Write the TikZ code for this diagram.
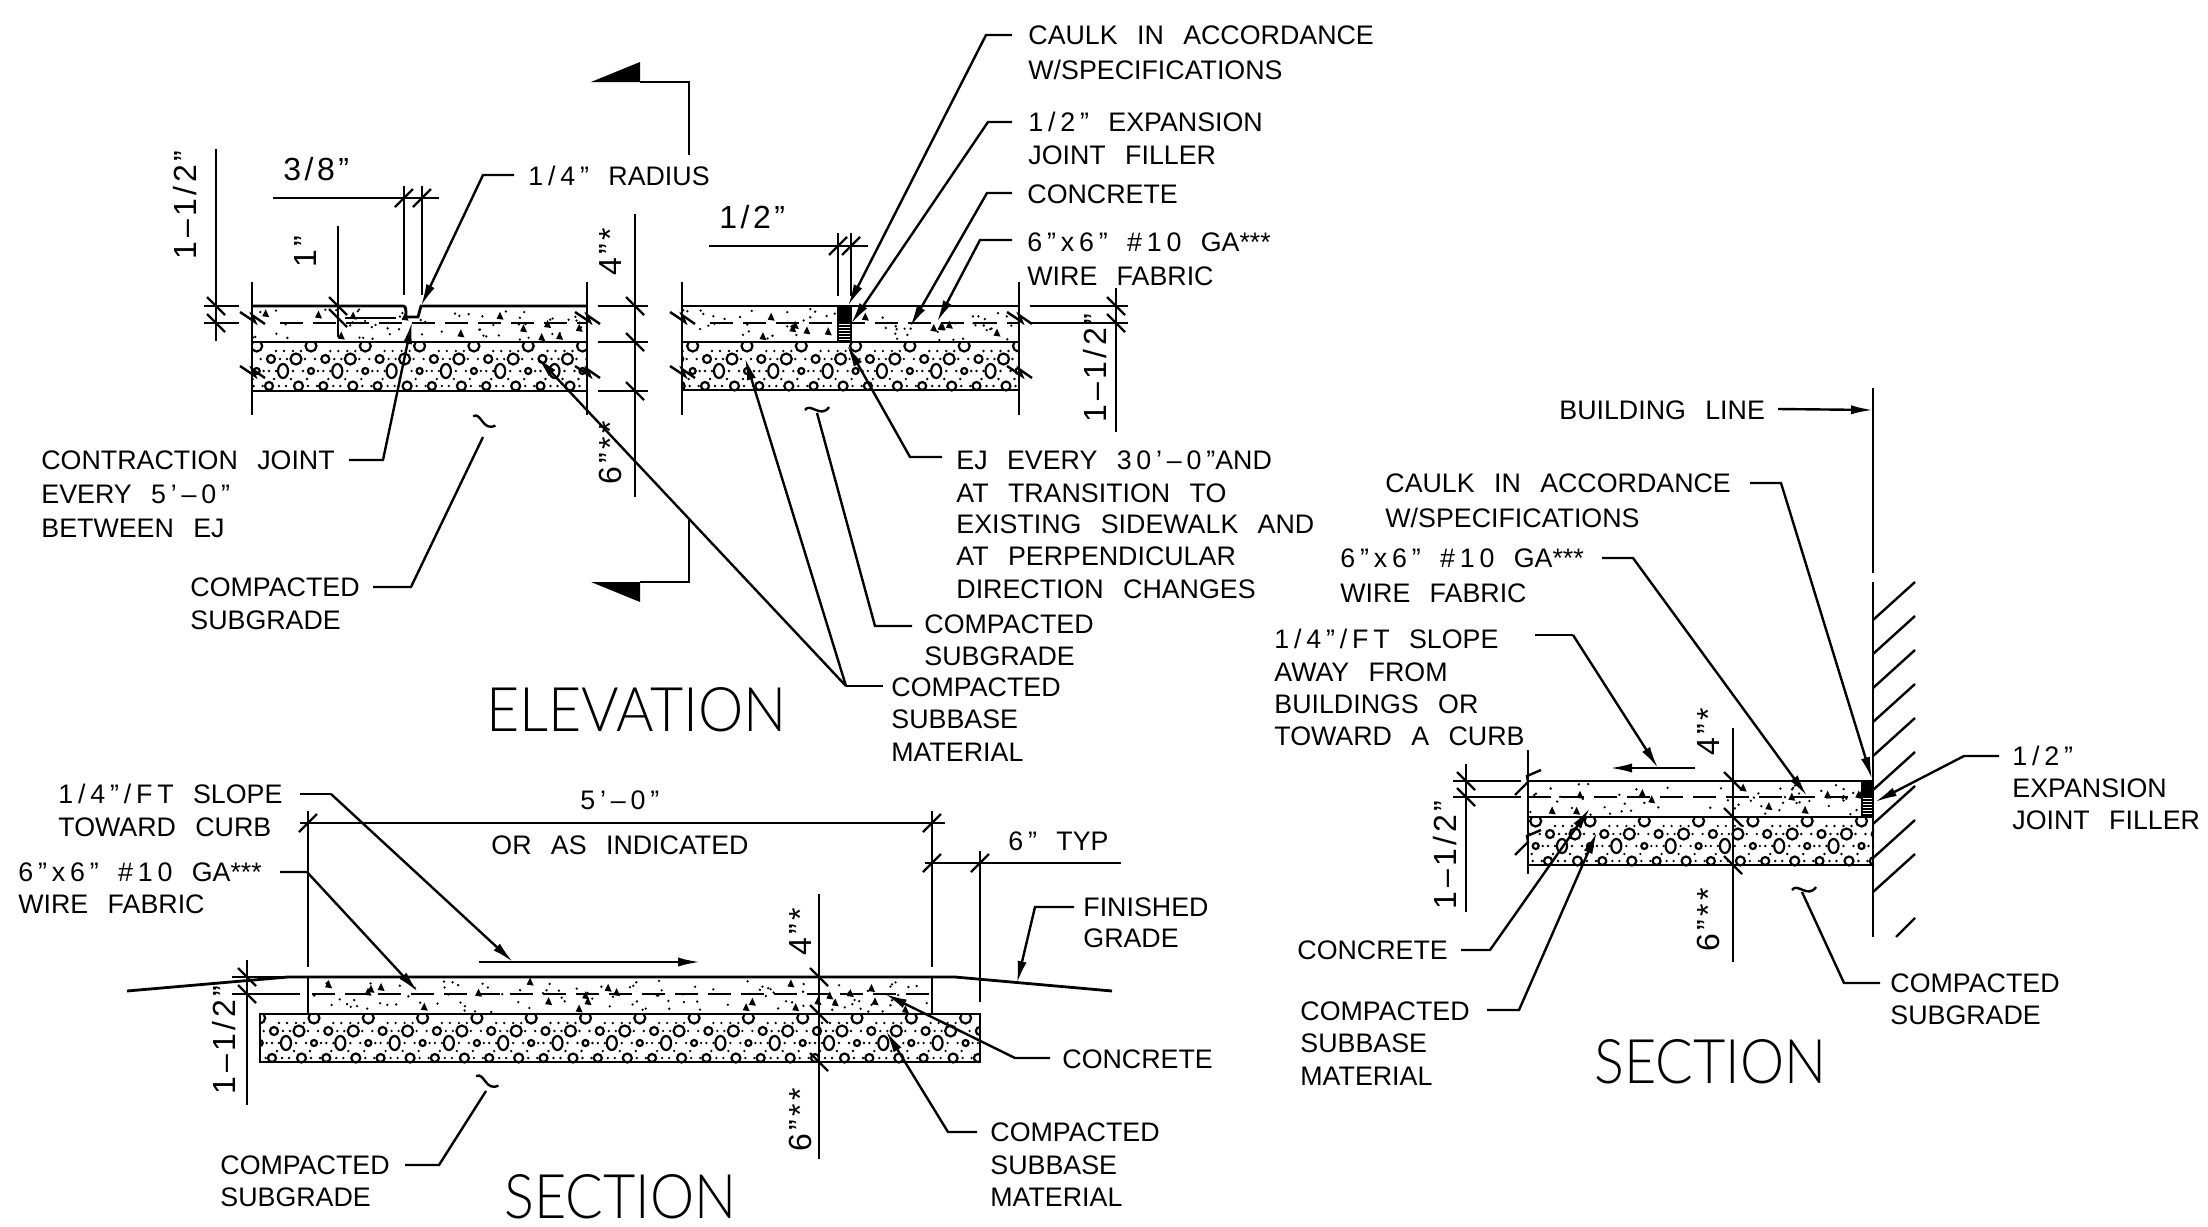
\documentclass[tikz,border=0pt]{standalone}
\usepackage{fontspec}
\setmainfont[WordSpace=2.6]{Liberation Sans}
\newfontfamily\bigf[UprightFont={* Light}]{Lato}
\usetikzlibrary{arrows.meta}
\newcounter{tn}
\newcommand{\dg}[1]{{\addfontfeature{LetterSpace=18}#1}}
\tikzset{
  ln/.style={line width=1.2pt},
  hv/.style={line width=1.4pt},
  ldr/.style={line width=1.2pt,-{Latex[length=11pt,width=4.6pt]}},
  txt/.style={inner sep=0pt,font=\fontsize{13.4pt}{15pt}\selectfont,text height=9.6pt,text depth=0pt},
  dimt/.style={inner sep=0pt,font=\fontsize{16pt}{17pt}\selectfont\addfontfeature{LetterSpace=11},text height=11.4pt,text depth=0pt},
  grv/.style={line width=1.1pt}
}
\newcommand{\T}[3]{\stepcounter{tn}\node[txt,anchor=west] (t\arabic{tn}) at (#1,#2) {#3};}
\newcommand{\Dm}[3]{\stepcounter{tn}\node[dimt,anchor=west] (t\arabic{tn}) at (#1,#2) {#3};}
\newcommand{\R}[3]{\stepcounter{tn}\node[dimt,rotate=90] (t\arabic{tn}) at (#1,#2) {#3};}
\newcommand{\Bg}[4]{\stepcounter{tn}\node[inner sep=0pt,anchor=west] (t\arabic{tn}) at (#1,#2) {\resizebox{#3}{22pt}{\bigf #4}};}
\newcommand{\tka}[2]{\draw[ln] (#1-9,#2-9)--(#1+9,#2+9);}
\newcommand{\tkb}[2]{\draw[ln] (#1-9,#2+9)--(#1+9,#2-9);}
\newcommand{\brk}[2]{\draw[ln,shift={(#1,#2)}] (-12,-6)--(3,4)--(0,-3)--(13,6);}
\newcommand{\brkb}[2]{\draw[ln,shift={(#1,#2)}] (-13,13)--(0,0)--(-1,-6)--(13,-12);}
\newcommand{\tild}[3]{\draw[ln,shift={(#1,#2)},rotate=#3] (-12,-1) .. controls (-7,-9) and (4,8) .. (12,-4);}
% gravel: x0 x1 top origin
\newcommand{\gravel}[4]{%
\begin{scope}
\clip (#1,#3) rectangle (#2,#3+49);
\pgfmathtruncatemacro{\nk}{(#2-#4)/54.3+1}
\foreach \k in {-1,...,\nk}{
\begin{scope}[shift={(#4+\k*54.3,#3)}]
\draw[grv] (40,4) circle[radius=5.5] (0,17) circle[radius=4] (25,17) circle[radius=5.5]
 (12,29) circle[x radius=5,y radius=7] (40,29) circle[radius=3] (-2,44) circle[radius=4] (27.5,44) circle[radius=4.5];
\foreach \a/\b in {9/17,16/17,34/17,44/17,5/9,13/9,22/9,30/9,-2/29,5/29,22/29,32/29,47/29,3/37,20/37,36/37,8/44,15/44,37/44,46/44}{\fill (\a,\b) circle[radius=1.3];}
\end{scope}}
\end{scope}}
% concrete speckle: x0 x1 top bottom
\newcommand{\conc}[4]{%
\begin{scope}
\clip (#1,#3) rectangle (#2,#4);
\pgfmathtruncatemacro{\nd}{(#2-#1)/6}
\foreach \i in {1,...,\nd}{
 \pgfmathsetmacro{\px}{#1+rnd*(#2-#1)}\pgfmathsetmacro{\py}{#3+3+rnd*(#4-#3-5)}
 \fill (\px,\py) circle[radius=1.3];}
\pgfmathtruncatemacro{\nt}{(#2-#1)/26}
\foreach \i in {1,...,\nt}{
 \pgfmathsetmacro{\px}{#1+rnd*(#2-#1)}\pgfmathsetmacro{\py}{#3+5+rnd*(#4-#3-8)}
 \fill (\px-3.5,\py+2.5)--(\px+3.5,\py+3.5)--(\px,\py-4.5)--cycle;}
\end{scope}}
\begin{document}
\begin{tikzpicture}[x=.5pt,y=-.5pt]
\useasboundingbox (0,0) rectangle (2208,1227);
\pgfmathsetseed{4711}
%% ========= ELEVATION left
\conc{252}{587}{306}{342}
\gravel{252}{587}{342}{271}
\draw[ln,dash pattern=on 11.5pt off 5pt] (280,323)--(587,323);
\draw[hv] (252,306)--(403,306) to[out=0,in=90] (406,312)--(406,317)--(418,317)--(421,306)--(587,306);
\draw[hv] (252,342)--(587,342) (252,391)--(587,391);
\draw[ln] (252,282)--(252,415) (587,282)--(587,415);
\brk{252}{318}\brk{587}{318}\brk{252}{372}\brk{587}{372}
% dims
\draw[ln] (216,149)--(216,341) (204,306)--(239,306) (204,323)--(239,323);
\tka{216}{306}\tka{216}{323}
\R{185}{205}{1–1/2”}
\draw[ln] (338,226)--(338,337) (345,318)--(396,318);
\tka{338}{306}\tka{338}{318}
\R{305}{252}{1”}
\draw[ln] (273,198)--(439,198) (404,186)--(404,295) (422,186)--(422,295);
\tkb{404}{198}\tkb{422}{198}
\Dm{283}{169}{3/8”}
\draw[ln] (635,214)--(635,497) (598,306)--(648,306) (648,342)--(598,342) (598,391)--(648,391);
\tka{635}{306}\tka{635}{342}\tka{635}{391}
\R{610}{252}{4”*}
\R{610}{453}{6”**}
\draw[ldr] (514,175)--(483,175)--(421,306);
\T{528}{176}{\dg{1/4”} RADIUS}
\draw[ldr] (349,460)--(383,460)--(412,322);
\T{41}{460}{CONTRACTION JOINT}
\T{41}{494}{EVERY \dg{5’–0”}}
\T{41}{528}{BETWEEN EJ}
\tild{483}{423}{-30}
\draw[ln] (373,587)--(411,587)--(483,437);
\T{190}{587}{COMPACTED}
\T{190}{620}{SUBGRADE}
% section cut
\fill (591,82)--(640,62)--(640,82)--cycle;
\draw[ln] (640,82)--(689,82)--(689,155);
\fill (591,582)--(640,602)--(640,582)--cycle;
\draw[ln] (640,582)--(689,582)--(689,520);
%% ========= ELEVATION right
\conc{682}{1019}{306}{342}
\gravel{682}{1019}{342}{707}
\draw[ln,dash pattern=on 11.5pt off 5pt] (710,323)--(1019,323);
\fill[white] (838,306) rectangle (851,342);
\fill (838,306) rectangle (851,324);
\foreach \yy in {326,329,...,341}{\draw[line width=.6pt] (838,\yy)--(851,\yy);}
\draw[ln] (838,306)--(838,342) (851,306)--(851,342);
\draw[hv] (682,306)--(1019,306) (682,342)--(1019,342) (682,390)--(1019,390);
\draw[ln] (682,282)--(682,415) (1019,282)--(1019,415);
\brk{682}{318}\brk{1019}{318}\brk{682}{372}\brk{1019}{372}
\draw[ln] (709,246)--(868,246) (838,233)--(838,296) (851,233)--(851,296);
\tkb{838}{246}\tkb{851}{246}
\Dm{719}{217}{1/2”}
\draw[ln] (1116,288)--(1116,432) (1030,306)--(1128,306) (1030,323)--(1128,323);
\tka{1116}{306}\tka{1116}{323}
\R{1095}{368}{1–1/2”}
\draw[ldr] (1012,35)--(986,35)--(848,306);
\draw[ldr] (1012,122)--(988,122)--(851,324);
\draw[ldr] (1012,193)--(987,193)--(910,327);
\draw[ldr] (1012,240)--(980,240)--(937,322);
\T{1028}{35}{CAULK IN ACCORDANCE}
\T{1028}{70}{W/SPECIFICATIONS}
\T{1028}{122}{\dg{1/2”} EXPANSION}
\T{1028}{155}{JOINT FILLER}
\T{1027}{194}{CONCRETE}
\T{1027}{242}{\dg{6”x6”} \dg{\#10} GA***}
\T{1027}{276}{WIRE FABRIC}
\draw[ldr] (942,457)--(910,457)--(847,345);
\T{956}{460}{EJ EVERY \dg{30’–0”}AND}
\T{956}{493}{AT TRANSITION TO}
\T{956}{524}{EXISTING SIDEWALK AND}
\T{956}{556}{AT PERPENDICULAR}
\T{956}{589}{DIRECTION CHANGES}
\tild{817}{411}{0}
\draw[ln] (912,626)--(875,626)--(817,413);
\T{924}{624}{COMPACTED}
\T{924}{656}{SUBGRADE}
\draw[ln] (883,686)--(846,686);
\draw[ldr] (846,686)--(537,357);
\draw[ldr] (846,686)--(745,358);
\T{891}{687}{COMPACTED}
\T{891}{719}{SUBBASE}
\T{891}{752}{MATERIAL}
\Bg{486}{710}{150pt}{ELEVATION}
%% ========= SECTION bottom
\conc{308}{932}{977}{1014}
\gravel{260}{980}{1014}{274}
\draw[ln,dash pattern=on 11.5pt off 5pt] (312,994)--(932,994);
\draw[hv] (127,991)--(288,977)--(955,977)--(1112,991);
\draw[hv] (260,1014) rectangle (980,1062);
\draw[ln] (308,977)--(308,1014) (932,977)--(932,1014) (308,811)--(308,967) (932,811)--(932,967) (980,851)--(980,1002);
\draw[ln] (300,823)--(945,823) (925,863)--(1121,863);
\tkb{308}{823}\tkb{932}{823}\tkb{932}{863}\tkb{980}{863}
\T{580}{800}{\dg{5’–0”}}
\T{491}{845}{OR AS INDICATED}
\T{1008}{841}{\dg{6”} TYP}
\draw[ln] (247,960)--(247,1105) (232,977)--(290,977) (232,994)--(300,994);
\tka{247}{977}\tka{247}{994}
\R{224}{1040}{1–1/2”}
\draw[ln] (819,894)--(819,1159);
\tka{819}{977}\tka{819}{1014}\tka{819}{1062}
\R{800}{932}{4”*}
\R{800}{1120}{6”**}
\draw[ln] (300,794)--(331,794) (479,962)--(690,962);
\draw[ldr] (331,794)--(513,962);
\draw[ldr] (479,962)--(700,962);
\T{58}{794}{\dg{1/4”/FT} SLOPE}
\T{58}{827}{TOWARD CURB}
\draw[ldr] (280,872)--(307,872)--(418,992);
\T{18}{872}{\dg{6”x6”} \dg{\#10} GA***}
\T{18}{904}{WIRE FABRIC}
\draw[ldr] (1074,907)--(1035,907)--(1017,983);
\T{1083}{907}{FINISHED}
\T{1083}{938}{GRADE}
\draw[ldr] (1050,1058)--(1015,1058)--(885,994);
\T{1062}{1059}{CONCRETE}
\draw[ldr] (977,1132)--(948,1132)--(886,1031);
\T{990}{1132}{COMPACTED}
\T{990}{1165}{SUBBASE}
\T{990}{1197}{MATERIAL}
\tild{486}{1083}{-30}
\draw[ln] (405,1165)--(439,1165)--(486,1091);
\T{220}{1165}{COMPACTED}
\T{220}{1197}{SUBGRADE}
\Bg{504}{1197}{116pt}{SECTION}
%% ========= SECTION right
\conc{1528}{1862}{781}{817}
\gravel{1528}{1874}{817}{1550}
\draw[ln,dash pattern=on 11.5pt off 5pt] (1528,797)--(1862,797);
\fill (1862,781) rectangle (1874,798);
\foreach \yy in {800,803,...,815}{\draw[line width=.6pt] (1862,\yy)--(1874,\yy);}
\draw[ln] (1862,781)--(1862,817);
\draw[hv] (1528,781)--(1874,781) (1528,817)--(1874,817) (1528,865)--(1874,865);
\draw[ln] (1528,750)--(1528,874);
\brkb{1528}{782}\brkb{1528}{842}
\draw[ln] (1873,388)--(1873,573) (1873,582)--(1873,937);
\foreach \yy in {620,654,...,892}{\draw[ln] (1873,\yy)--(1915,\yy-38);}
\draw[ln] (1896,937)--(1915,918);
\draw[ldr] (1778,409)--(1873,410);
\T{1559}{410}{BUILDING LINE}
\draw[ln] (1466,764)--(1466,912) (1453,781)--(1521,781) (1453,797)--(1521,797);
\tka{1466}{781}\tka{1466}{797}
\R{1445}{855}{1–1/2”}
\draw[ln] (1733,728)--(1733,962);
\tka{1733}{781}\tka{1733}{817}\tka{1733}{865}
\R{1708}{732}{4”*}
\R{1708}{920}{6”**}
\draw[ln] (1695,768)--(1650,768) (1535,635)--(1573,635);
\draw[ldr] (1650,768)--(1610,768);
\draw[ldr] (1573,635)--(1658,768);
\draw[ldr] (1750,483)--(1781,483)--(1872,779);
\T{1385}{483}{CAULK IN ACCORDANCE}
\T{1385}{518}{W/SPECIFICATIONS}
\draw[ldr] (1602,558)--(1633,558)--(1807,796);
\T{1340}{558}{\dg{6”x6”} \dg{\#10} GA***}
\T{1340}{593}{WIRE FABRIC}
\T{1274}{639}{\dg{1/4”/FT} SLOPE}
\T{1274}{672}{AWAY FROM}
\T{1274}{704}{BUILDINGS OR}
\T{1274}{736}{TOWARD A CURB}
\draw[ldr] (1461,950)--(1490,950)--(1590,808);
\T{1297}{950}{CONCRETE}
\draw[ldr] (1487,1010)--(1519,1010)--(1597,832);
\T{1300}{1011}{COMPACTED}
\T{1300}{1043}{SUBBASE}
\T{1300}{1076}{MATERIAL}
\tild{1804}{891}{0}
\draw[ln] (1880,983)--(1844,983)--(1802,892);
\T{1890}{983}{COMPACTED}
\T{1890}{1015}{SUBGRADE}
\draw[ldr] (1999,756)--(1964,756)--(1875,802);
\T{2012}{756}{\dg{1/2”}}
\T{2012}{788}{EXPANSION}
\T{2012}{820}{JOINT FILLER}
\Bg{1594}{1062}{116pt}{SECTION}
\end{tikzpicture}
\end{document}
